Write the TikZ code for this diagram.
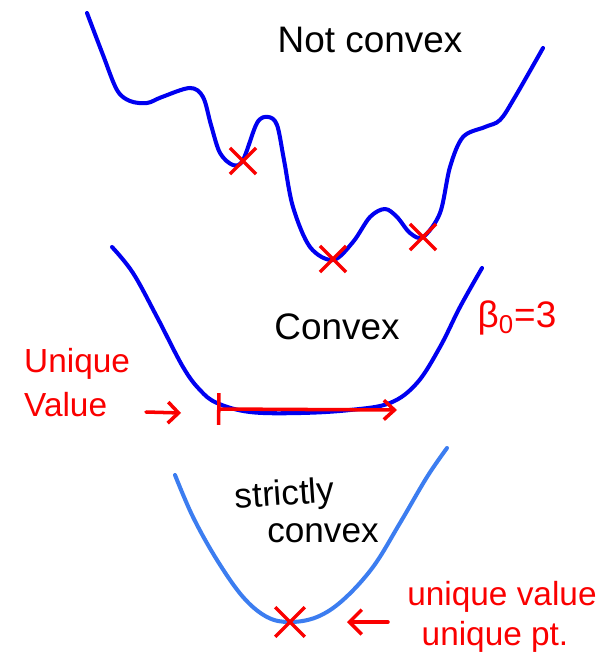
\documentclass[tikz,border=0pt]{standalone}
\usepackage{fontspec}
\setmainfont{Liberation Sans}
\usetikzlibrary{arrows.meta,shapes.misc}
\definecolor{penblue}{RGB}{0,0,240}
\definecolor{softblue}{RGB}{60,125,240}
\definecolor{penred}{RGB}{250,0,0}
\tikzset{
 curve/.style={penblue,line width=2.3pt,line cap=round,line join=round},
 xmark/.style={draw=penred,cross out,line width=1.9pt,minimum size=13pt,inner sep=0pt},
 blacktxt/.style={font=\fontsize{21}{24}\selectfont},
 redtxt/.style={text=penred,font=\fontsize{19}{23}\selectfont},
 redpen/.style={penred,line width=2pt,line cap=round}
}

\begin{document}
\begin{tikzpicture}[x=0.02cm,y=-0.02cm,>=Stealth]
 \useasboundingbox (0,0) rectangle (598,665);
 % not convex
 \draw[curve] plot[smooth,tension=0.55] coordinates {(87,13) (103,55) (117,90) (130,101) (147,103)
  (162,97) (190,88) (203,97) (211,125) (220,153) (233,165) (243,160) (257,123) (268,117)
  (277,125) (284,160) (293,207) (310,247) (333,260) (353,242) (370,217) (385,209) (397,217)
  (410,233) (423,237) (440,213) (450,167) (463,137) (485,127) (500,120) (515,97) (543,48)};
 \node[xmark] (m1) at (243,161) {};
 \node[xmark] (m2) at (333,259) {};
 \node[xmark] (m3) at (423,237) {};
 \node[blacktxt] (nc) at (370,40) {Not convex};
 % convex
 \draw[curve] plot[smooth,tension=0.6] coordinates {(112,247) (133,273) (157,317) (183,367)
  (200,390) (217,403) (250,412) (300,413) (350,410) (390,403) (417,383) (440,347) (460,307) (482,268)};
 \node[blacktxt] (cv) at (337,327) {Convex};
 \node[redtxt,font=\fontsize{21}{24}\selectfont] (beta) at (517,318) {β\textsubscript{0}=3};
 \node[redtxt,align=left,anchor=west] (uv) at (18,383) {Unique\\[2pt]Value};
 \coordinate (flat-l) at (217,409);
 \coordinate (flat-r) at (397,410);
 \draw[redpen,{Bar[width=18pt]}-{Straight Barb[length=6pt,width=11pt]}] (flat-l) -- (flat-r);
 \coordinate (in-a) at (146,412);
 \coordinate (in-b) at (181,413);
 \draw[redpen,-{Straight Barb[length=6pt,width=12pt]}] (in-a) -- (in-b);
 % strictly convex
 \draw[curve,softblue] plot[smooth,tension=0.6] coordinates {(175,475) (193,517) (217,560)
  (243,597) (267,617) (290,622) (317,617) (343,600) (373,567) (400,523) (427,477) (447,448)};
 \node[xmark,minimum size=15pt] (m4) at (290,622) {};
 \node[blacktxt,font=\fontsize{20}{23}\selectfont,rotate=4] (sc1) at (285,496) {strictly};
 \node[blacktxt,font=\fontsize{20}{23}\selectfont] (sc2) at (323,533) {convex};
 \node[redtxt] (uval) at (502,597) {unique value};
 \node[redtxt] (upt) at (495,637) {unique pt.};
 \coordinate (pt-a) at (388,622);
 \coordinate (pt-b) at (347,622);
 \draw[redpen,-{Straight Barb[length=7pt,width=14pt]}] (pt-a) -- (pt-b);
\end{tikzpicture}
\end{document}
